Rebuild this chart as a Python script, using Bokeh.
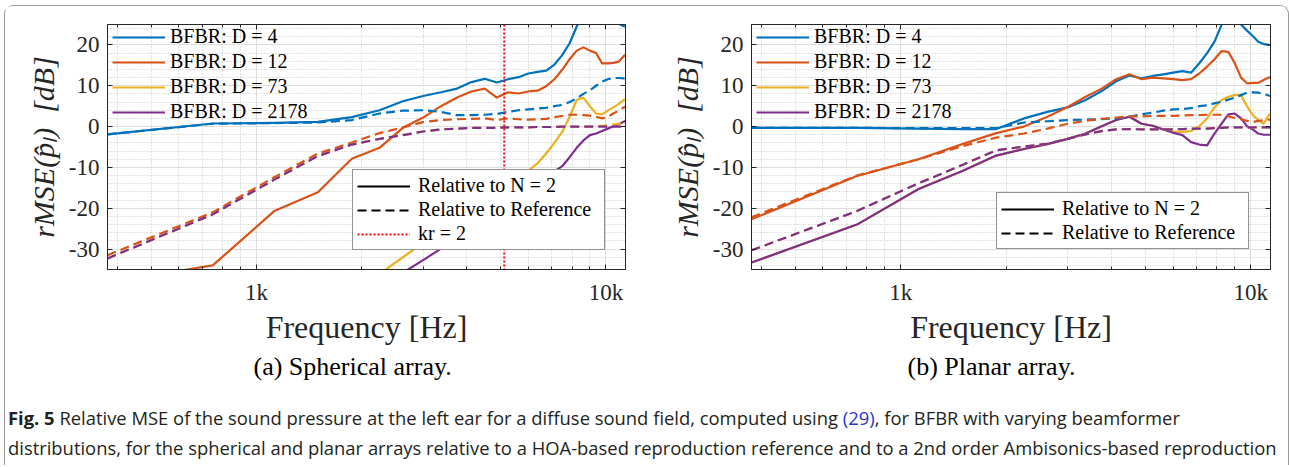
import numpy as np
from bokeh.plotting import figure
from bokeh.models import (FixedTicker, LogAxis, LinearAxis, Legend, LegendItem,
                          Span, Range1d, Div, Title)
from bokeh.layouts import row, column
from bokeh.embed import file_html
from bokeh.resources import INLINE

# ---------------- data ----------------
freq_hz = [375, 750, 1125, 1500, 1875, 2250, 2625, 3000, 3375, 3750, 4125, 4500,
           4875, 5250, 5625, 6000, 6375, 6750, 7125, 7500, 7875, 8250, 8625, 9000,
           9375, 9750, 10125, 10500, 10875, 11250, 11625]

series_labels = ["BFBR: D = 4", "BFBR: D = 12", "BFBR: D = 73", "BFBR: D = 2178"]
series_colors = ["#0072BD", "#D95319", "#EDB120", "#7E2F8E"]

# (a) spherical array, relative to N = 2 (solid)
sph_n2_D4 = [-1.9, 0.75, 0.9, 1.15, 2.3, 4.0, 6.2, 7.5, 8.4, 9.3, 10.9, 11.7, 10.8, 11.6,
             12.1, 13.0, 13.4, 13.7, 15.2, 17.5, 20.4, 24.5, 28.0, 30.0, 31.0, 30.0, 28.0,
             26.5, 25.2, 24.6, 24.4]
sph_n2_D12 = [-38.2, -34.0, -20.7, -16.1, -7.9, -5.2, -0.3, 2.2, 5.0, 7.1, 8.6, 9.3, 7.1,
              8.4, 8.1, 8.6, 8.8, 9.9, 11.6, 13.9, 16.5, 18.6, 19.4, 18.6, 18.0, 15.5, 15.5,
              15.6, 15.9, 17.3, 17.6]
sph_n2_D73 = [-58.0, -52.0, -48.0, -45.0, -41.0, -36.1, -32.0, -28.5, -25.5, -22.8, -20.3,
              -18.1, -16.0, -14.2, -12.4, -10.8, -9.0, -6.6, -4.0, -1.3, 2.4, 6.5, 7.1, 5.0,
              3.2, 3.0, 3.9, 4.7, 5.5, 6.5, 7.0]
sph_n2_D2178 = [-65.0, -58.0, -52.0, -48.0, -44.0, -40.0, -35.8, -32.7, -29.9, -27.2, -24.8,
                -22.6, -20.6, -18.7, -17.0, -15.3, -13.8, -12.3, -11.0, -9.7, -7.5, -5.2,
                -3.4, -2.1, -1.7, -1.1, -0.5, 0.1, 0.6, 1.2, 1.8]
# (a) spherical array, relative to reference (dashed)
sph_ref_D4 = [-1.9, 0.7, 0.85, 1.0, 1.6, 3.2, 3.9, 4.0, 3.6, 2.8, 2.8, 2.9, 3.1, 3.6, 4.0,
              4.2, 4.4, 4.6, 5.0, 5.3, 6.0, 6.9, 8.0, 8.9, 10.0, 11.0, 11.6, 11.9, 11.9,
              11.8, 11.7]
sph_ref_D12 = [-31.5, -21.0, -12.4, -6.6, -3.9, -1.6, -0.2, 1.1, 1.6, 1.8, 1.9, 2.0, 1.6,
               2.0, 1.8, 1.7, 1.8, 1.9, 2.3, 2.6, 2.9, 2.9, 2.8, 2.7, 2.4, 2.0, 2.4, 3.2,
               3.9, 4.7, 5.2]
sph_ref_D73 = [-32.3, -21.5, -13.0, -7.2, -4.4, -3.0, -2.1, -1.2, -0.7, -0.5, -0.3, -0.3,
               -0.3, -0.2, -0.2, -0.2, -0.1, -0.1, -0.1, 0.0, 0.0, 0.0, 0.0, 0.0, 0.1, 0.2,
               0.3, 0.5, 0.7, 0.8, 0.9]
sph_ref_D2178 = [-32.3, -21.5, -13.0, -7.2, -4.4, -3.0, -2.1, -1.2, -0.7, -0.5, -0.3, -0.3,
                 -0.3, -0.2, -0.2, -0.2, -0.1, -0.1, -0.1, 0.0, 0.0, 0.0, 0.0, 0.0, 0.0,
                 0.0, 0.0, 0.0, 0.0, 0.0, 0.0]

# (b) planar array, relative to N = 2 (solid)
pla_n2_D4 = [-0.3, -0.3, -0.5, -0.6, -0.6, 2.0, 3.6, 4.7, 6.5, 8.7, 11.1, 12.5, 11.8, 12.4,
             12.8, 13.2, 13.6, 13.2, 15.5, 18.0, 20.8, 24.9, 27.5, 28.0, 25.0, 23.5, 22.2,
             20.8, 20.2, 20.0, 19.9]
pla_n2_D12 = [-22.7, -12.1, -8.0, -4.3, -1.6, 0.0, 2.4, 4.8, 7.3, 9.3, 11.6, 12.8, 11.6,
              12.0, 11.8, 11.6, 11.4, 11.6, 13.0, 14.7, 16.5, 18.5, 18.3, 15.5, 12.0, 10.6,
              10.7, 10.7, 11.4, 12.0, 12.2]
pla_n2_D73 = [-33.3, -24.0, -15.3, -10.9, -7.1, -5.5, -4.3, -3.0, -1.7, 0.1, 1.6, 2.4, 0.7,
              0.2, -0.7, -1.3, -1.3, -1.1, 0.1, 2.0, 4.7, 6.5, 7.3, 7.7, 7.7, 5.0, 2.8, 1.6,
              0.7, 2.8, 3.5]
pla_n2_D2178 = [-33.3, -24.0, -15.3, -10.9, -7.1, -5.5, -4.3, -3.0, -1.7, 0.1, 1.6, 2.4, 0.7,
                0.2, -0.7, -1.5, -2.1, -3.8, -4.4, -4.6, -1.7, 0.7, 3.0, 3.2, 2.0, 0.1, -0.7,
                -1.7, -2.0, -2.0, -2.0]
# (b) planar array, relative to reference (dashed)
pla_ref_D4 = [-0.3, -0.3, -0.4, -0.4, -0.4, 1.0, 1.3, 1.6, 1.7, 1.8, 2.0, 2.4, 3.0, 3.4, 3.9,
              4.2, 4.3, 4.5, 5.0, 5.2, 5.7, 6.1, 6.6, 7.1, 7.7, 8.3, 8.4, 8.3, 8.0, 7.6, 7.4]
pla_ref_D12 = [-22.2, -12.0, -8.0, -4.8, -2.7, -1.7, -0.5, 0.7, 1.4, 1.9, 2.2, 2.5, 2.5, 2.6,
               2.6, 2.6, 2.7, 2.8, 2.8, 2.9, 2.9, 2.9, 2.5, 2.1, 1.8, 1.4, 1.1, 1.4, 1.6,
               1.7, 1.7]
pla_ref_D73 = [-30.3, -20.7, -13.9, -9.4, -5.8, -4.9, -4.2, -3.0, -1.9, -1.1, -0.7, -0.6,
               -0.7, -0.7, -0.7, -0.7, -0.6, -0.5, -0.5, -0.5, -0.4, -0.3, -0.2, -0.2, -0.2,
               -0.2, -0.2, -0.2, -0.2, -0.2, -0.2]
pla_ref_D2178 = [-30.3, -20.7, -13.9, -9.4, -5.8, -4.9, -4.2, -3.0, -1.9, -1.1, -0.7, -0.6,
                 -0.7, -0.7, -0.7, -0.7, -0.6, -0.5, -0.5, -0.5, -0.4, -0.3, -0.2, -0.2,
                 -0.2, -0.2, -0.2, -0.2, -0.2, -0.2, -0.2]

kr2_freq_hz = 5120  # kr = 2 for the spherical array

x_major_ticks = [1000, 10000]
x_major_labels = ["1k", "10k"]
x_minor_ticks = [400, 500, 600, 700, 800, 900, 2000, 3000, 4000, 5000, 6000, 7000, 8000, 9000]
y_major_ticks = [-30, -20, -10, 0, 10, 20]
y_major_labels = ["-30", "-20", "-10", "0", "10", "20"]
y_minor_ticks = [-34, -32, -28, -26, -24, -22, -18, -16, -14, -12, -8, -6, -4, -2,
                 2, 4, 6, 8, 12, 14, 16, 18, 22, 24]

x_label = "Frequency [Hz]"
y_label = "rMSE(p\u0302\u2097)\u2002[dB]"
legend2_labels = ["Relative to N = 2", "Relative to Reference", "kr = 2"]
subcaptions = ["(a) Spherical array.", "(b) Planar array."]

SERIF = "Liberation Serif"
AX = "#262626"


def style_axis(ax, show_labels):
    ax.axis_line_color = AX
    ax.axis_line_width = 1
    ax.major_tick_line_color = AX
    ax.major_tick_in = 5
    ax.major_tick_out = 0
    ax.minor_tick_in = 3
    ax.minor_tick_out = 0
    ax.minor_tick_line_color = AX
    ax.major_label_text_font = SERIF
    ax.major_label_text_color = AX
    if show_labels:
        ax.major_label_text_font_size = "23px"
    else:
        ax.major_label_text_font_size = "1px"
        ax.major_label_standoff = 0


def make_plot(width, mb_left, mb_right, solids, dashes, legend2_y, kr_line, subcap, subcap_off):
    p = figure(width=width, height=389, x_axis_type="log",
               x_range=Range1d(375, 11380), y_range=Range1d(-35, 25),
               output_backend="svg", toolbar_location=None,
               min_border_left=mb_left, min_border_right=mb_right,
               min_border_top=18, min_border_bottom=126)
    p.outline_line_color = AX
    p.background_fill_color = "white"
    p.border_fill_color = "white"

    p.xaxis.ticker = FixedTicker(ticks=x_major_ticks, minor_ticks=x_minor_ticks)
    p.yaxis.ticker = FixedTicker(ticks=y_major_ticks, minor_ticks=y_minor_ticks)
    p.xaxis.major_label_overrides = {t: l for t, l in zip(x_major_ticks, x_major_labels)}
    p.yaxis.major_label_overrides = {t: l for t, l in zip(y_major_ticks, y_major_labels)}
    for ax in p.xaxis:
        style_axis(ax, True)
        ax.major_label_standoff = 10
        ax.axis_label = x_label
        ax.axis_label_text_font = SERIF
        ax.axis_label_text_font_size = "32px"
        ax.axis_label_text_font_style = "normal"
        ax.axis_label_text_color = AX
        ax.axis_label_standoff = 1
    for ax in p.yaxis:
        style_axis(ax, True)
        ax.major_label_standoff = 8
        ax.minor_tick_line_color = None
        ax.axis_label = y_label
        ax.axis_label_text_font = SERIF
        ax.axis_label_text_font_size = "30px"
        ax.axis_label_text_font_style = "italic"
        ax.axis_label_text_color = AX
        ax.axis_label_standoff = 6

    top = LogAxis(ticker=FixedTicker(ticks=x_major_ticks, minor_ticks=x_minor_ticks),
                  major_label_overrides={t: "" for t in x_major_ticks})
    style_axis(top, False)
    p.add_layout(top, "above")
    right = LinearAxis(ticker=FixedTicker(ticks=y_major_ticks, minor_ticks=y_minor_ticks),
                       major_label_overrides={t: "" for t in y_major_ticks})
    style_axis(right, False)
    right.minor_tick_line_color = None
    p.add_layout(right, "right")

    for g in (p.xgrid, p.ygrid):
        g.grid_line_color = "#dedede"
        g.grid_line_width = 1
        g.minor_grid_line_color = "#c4c4c4"
        g.minor_grid_line_dash = "1 2"
        g.minor_grid_line_width = 1

    solid_renderers = []
    for vals, col in zip(solids, series_colors):
        r = p.line(freq_hz, vals, line_color=col, line_width=2.2, line_join="round")
        solid_renderers.append(r)
    for vals, col in zip(dashes, series_colors):
        p.line(freq_hz, vals, line_color=col, line_width=2.2, line_dash="9 5",
               line_join="round")

    if kr_line:
        p.add_layout(Span(location=kr2_freq_hz, dimension="height", line_color="#ff0000",
                          line_width=2, line_dash="2 2"))

    # legend 1: series (transparent, no box)
    leg1 = Legend(items=[LegendItem(label=l, renderers=[r])
                         for l, r in zip(series_labels, solid_renderers)],
                  location=(5, 146), background_fill_alpha=0, border_line_color=None,
                  padding=4, spacing=2, margin=0, glyph_width=53, glyph_height=20,
                  label_height=20, label_standoff=5, label_text_font=SERIF,
                  label_text_font_size="20px", label_text_color="black")
    p.add_layout(leg1, "center")

    # legend 2: line styles (legend-only renderers with no visible points)
    nan_x = np.array([1000.0])
    nan_y = np.array([np.nan])
    r_n2 = p.line(nan_x, nan_y, line_color="black", line_width=2.2)
    r_ref = p.line(nan_x, nan_y, line_color="black", line_width=2.2, line_dash="9 5")
    items = [LegendItem(label=legend2_labels[0], renderers=[r_n2]),
             LegendItem(label=legend2_labels[1], renderers=[r_ref])]
    if kr_line:
        r_kr = p.line(nan_x, nan_y, line_color="#ff0000", line_width=2, line_dash="2 2")
        items.append(LegendItem(label=legend2_labels[2], renderers=[r_kr]))
    leg2 = Legend(items=items, location=(245, legend2_y), background_fill_color="white",
                  background_fill_alpha=1, border_line_color=AX, border_line_width=1,
                  padding=4, spacing=1, margin=0, glyph_width=53, glyph_height=20,
                  label_height=20, label_width=182, label_standoff=8, label_text_font=SERIF,
                  label_text_font_size="20px", label_text_color="black")
    p.add_layout(leg2, "center")

    # sub-caption below the x-axis label
    p.add_layout(Title(text=subcap, align="left", offset=subcap_off, standoff=4,
                       text_font=SERIF, text_font_size="26px", text_font_style="normal",
                       text_color="black"), "below")
    return p


p1 = make_plot(640, 102, 20,
               [sph_n2_D4, sph_n2_D12, sph_n2_D73, sph_n2_D2178],
               [sph_ref_D4, sph_ref_D12, sph_ref_D73, sph_ref_D2178],
               19, True, subcaptions[0], 146)
p2 = make_plot(640, 106, 15,
               [pla_n2_D4, pla_n2_D12, pla_n2_D73, pla_n2_D2178],
               [pla_ref_D4, pla_ref_D12, pla_ref_D73, pla_ref_D2178],
               20, False, subcaptions[1], 156)

caption_html = (
    '<div style="font-family:\'Open Sans\';font-size:18.4px;line-height:30px;color:#231f20;'
    'white-space:nowrap;padding-top:8px;">'
    '<b>Fig. 5</b> Relative MSE of the sound pressure at the left ear for a diffuse sound field, '
    'computed using <span style="color:#2b36d6">(29)</span>, for BFBR with varying beamformer<br>'
    'distributions, for the spherical and planar arrays relative to a HOA-based reproduction '
    'reference and to a 2nd order Ambisonics-based reproduction</div>'
)
caption = Div(text=caption_html, width=1280, height=70, margin=(0, 0, 0, 3),
              styles={"overflow": "visible"})

layout = column(row(p1, p2), caption, margin=(5, 0, 0, 4),
                styles={"border-top": "1px solid #9a9a9a", "border-left": "1px solid #9a9a9a",
                        "border-right": "1px solid #9a9a9a", "border-top-left-radius": "9px",
                        "border-top-right-radius": "9px"})

open("out.html", "w").write(file_html(layout, INLINE))
